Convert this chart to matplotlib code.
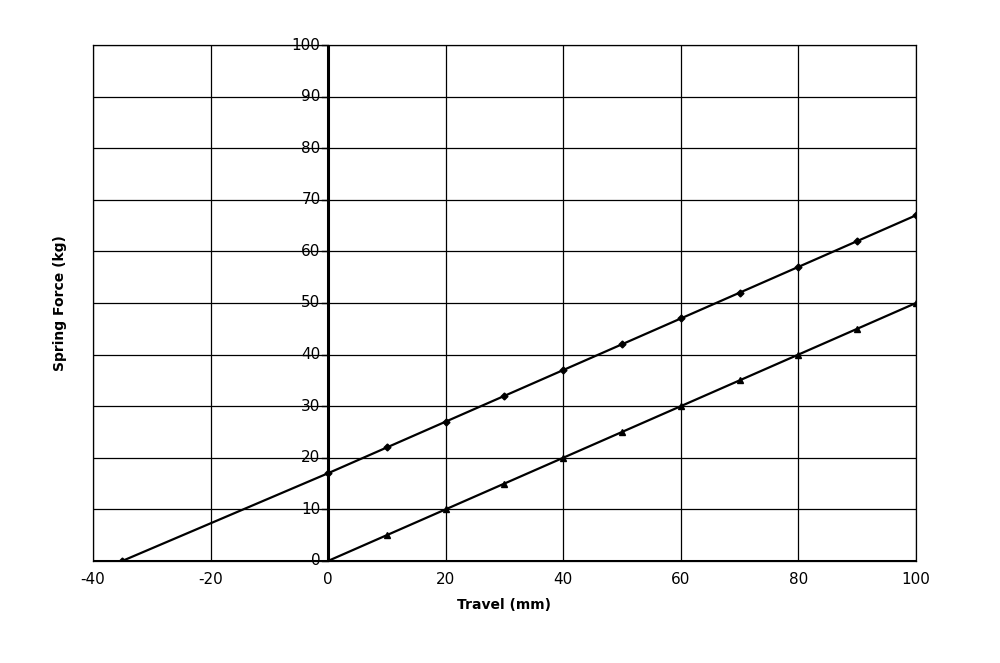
import matplotlib
matplotlib.use("Agg")
import matplotlib.pyplot as plt

travel1 = [-35, 0, 10, 20, 30, 40, 50, 60, 70, 80, 90, 100]
force1 = [0, 17, 22, 27, 32, 37, 42, 47, 52, 57, 62, 67]
travel2 = [0, 10, 20, 30, 40, 50, 60, 70, 80, 90, 100]
force2 = [0, 5, 10, 15, 20, 25, 30, 35, 40, 45, 50]
xticks = list(range(-40, 101, 20))
yticks = list(range(0, 101, 10))

fig = plt.figure(figsize=(10, 6.63), dpi=100)
ax = fig.add_axes([0.093, 0.154, 0.823, 0.778])
ax.set_xlim(-40, 100)
ax.set_ylim(0, 100)
for x in xticks:
    ax.axvline(x, color='black', lw=0.9, zorder=1)
for y in yticks:
    ax.axhline(y, color='black', lw=0.9, zorder=1)
ax.axvline(0, color='black', lw=2.2, zorder=2)
ax.axhline(0, color='black', lw=2.2, zorder=2)
for s in ax.spines.values():
    s.set_linewidth(0.9)
ax.plot(travel1, force1, color='black', lw=1.6, marker='D', ms=3.5, zorder=3)
ax.plot(travel2, force2, color='black', lw=1.6, marker='^', ms=4, zorder=3)
ax.set_xticks(xticks)
ax.set_xticklabels([str(v) for v in xticks], fontsize=11)
ax.tick_params(axis='x', length=0, pad=8)
ax.set_yticks([])
for y in yticks:
    ax.text(-1.3, y, str(y), ha='right', va='center', fontsize=11)
    ax.plot([-1, 0], [y, y], color='black', lw=1, clip_on=False, zorder=3)
ax.set_xlabel('Travel (mm)', fontsize=10, fontweight='bold', labelpad=8)
fig.text(0.06, 0.543, 'Spring Force (kg)', rotation=90, ha='center', va='center',
         fontsize=10, fontweight='bold')
fig.savefig('out.png', dpi=100, facecolor='white')
